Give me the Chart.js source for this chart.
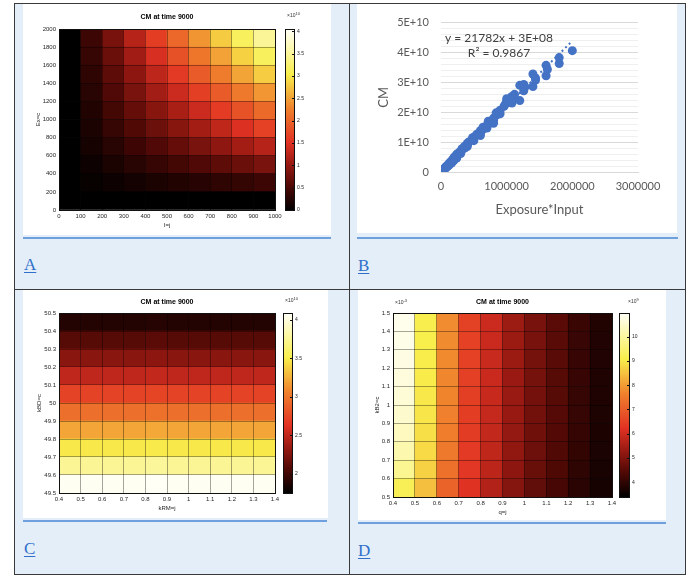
<!DOCTYPE html>
<html>
<head>
<meta charset="utf-8">
<script src="https://cdn.jsdelivr.net/npm/chart.js"></script>
<style>
body { margin: 0; background: #fff; width: 691px; height: 579px; position: relative; overflow: hidden; }
.cell { position: absolute; background: #e3eef9; }
.img { position: absolute; background: #fff; }
.rule { position: absolute; height: 2px; background: #6fa0de; }
.letter { position: absolute; color: #2f6fca; font: 17px/17px "Liberation Serif", serif; text-decoration: underline; text-underline-offset: 2px; }
.ln { position: absolute; background: #3a3a3a; }
canvas { position: absolute; }
</style>
</head>
<body>
<div class="cell" style="left:15px;top:4px;width:334px;height:285px"></div>
<div class="cell" style="left:350px;top:4px;width:335px;height:285px"></div>
<div class="cell" style="left:15px;top:290px;width:334px;height:284px"></div>
<div class="cell" style="left:350px;top:290px;width:335px;height:284px"></div>

<div class="img" style="left:23px;top:4px;width:308px;height:231px"></div>
<div class="img" style="left:357px;top:4px;width:320px;height:229px"></div>
<div class="img" style="left:23px;top:290px;width:305px;height:228px"></div>
<div class="img" style="left:358px;top:290px;width:308px;height:230px"></div>

<div class="rule" style="left:23px;top:237px;width:308px"></div>
<div class="rule" style="left:357px;top:237px;width:321px"></div>
<div class="rule" style="left:23px;top:520px;width:304px"></div>
<div class="rule" style="left:358px;top:522px;width:308px"></div>

<div class="letter" style="left:24px;top:256px">A</div>
<div class="letter" style="left:358px;top:257px">B</div>
<div class="letter" style="left:24px;top:540px">C</div>
<div class="letter" style="left:358px;top:542px">D</div>

<div class="ln" style="left:14px;top:3px;width:672px;height:1px"></div>
<div class="ln" style="left:14px;top:574px;width:672px;height:1px"></div>
<div class="ln" style="left:14px;top:3px;width:1px;height:572px"></div>
<div class="ln" style="left:685px;top:3px;width:1px;height:572px"></div>
<div class="ln" style="left:349px;top:3px;width:1px;height:572px"></div>
<div class="ln" style="left:14px;top:289px;width:672px;height:1px"></div>

<canvas id="chartA" width="308" height="231" style="left:23px;top:4px"></canvas>
<canvas id="chartB" width="320" height="229" style="left:357px;top:4px"></canvas>
<canvas id="chartC" width="305" height="228" style="left:23px;top:290px"></canvas>
<canvas id="chartD" width="308" height="230" style="left:358px;top:290px"></canvas>

<script>
// ---- panel A: CM at time 9000 over I (columns) and Ex (rows), x1e10
const aI = [0, 100, 200, 300, 400, 500, 600, 700, 800, 900, 1000];
const aEx = [0, 200, 400, 600, 800, 1000, 1200, 1400, 1600, 1800, 2000];
const aCM = [ // rows from Ex=0 upwards
  [0, 0, 0, 0, 0, 0, 0, 0, 0, 0],
  [0, 0.05, 0.09, 0.13, 0.18, 0.22, 0.26, 0.31, 0.35, 0.40],
  [0, 0.09, 0.18, 0.27, 0.36, 0.45, 0.54, 0.63, 0.72, 0.82],
  [0, 0.14, 0.27, 0.41, 0.54, 0.68, 0.82, 0.96, 1.10, 1.22],
  [0, 0.18, 0.36, 0.55, 0.73, 0.91, 1.10, 1.29, 1.48, 1.66],
  [0, 0.22, 0.45, 0.68, 0.91, 1.14, 1.37, 1.60, 1.82, 2.05],
  [0, 0.27, 0.54, 0.82, 1.09, 1.37, 1.64, 1.91, 2.18, 2.42],
  [0, 0.31, 0.63, 0.95, 1.27, 1.59, 1.91, 2.22, 2.52, 2.80],
  [0, 0.36, 0.72, 1.08, 1.45, 1.81, 2.16, 2.50, 2.84, 3.15],
  [0, 0.40, 0.81, 1.22, 1.62, 2.02, 2.41, 2.79, 3.14, 3.48]
];
const aColorRange = [0, 4.05];

// ---- panel B: CM vs Exposure*Input
const bExposureInput = [0, 0, 20000, 20000, 40000, 40000, 60000, 60000, 80000, 80000, 100000, 100000,
  120000, 120000, 140000, 160000, 160000, 180000, 180000, 200000, 200000, 200000, 240000, 240000, 240000,
  280000, 300000, 300000, 320000, 320000, 360000, 360000, 400000, 400000, 400000, 420000, 480000, 480000,
  500000, 500000, 540000, 560000, 600000, 600000, 600000, 640000, 640000, 700000, 700000, 720000, 720000,
  800000, 800000, 800000, 840000, 840000, 900000, 900000, 960000, 980000, 1000000, 1000000, 1080000,
  1080000, 1120000, 1120000, 1200000, 1200000, 1260000, 1260000, 1280000, 1400000, 1400000, 1440000,
  1440000, 1600000, 1600000, 1620000, 1800000, 1800000, 2000000];
const bCM = [0, 0.02e10, 0.05e10, 0.03e10, 0.10e10, 0.07e10, 0.14e10, 0.11e10, 0.19e10, 0.15e10, 0.23e10, 0.19e10,
  0.28e10, 0.22e10, 0.33e10, 0.37e10, 0.30e10, 0.42e10, 0.35e10, 0.47e10, 0.40e10, 0.50e10, 0.56e10, 0.47e10, 0.60e10,
  0.66e10, 0.70e10, 0.62e10, 0.74e10, 0.78e10, 0.80e10, 0.86e10, 0.90e10, 0.96e10, 0.85e10, 1.00e10, 1.08e10, 1.15e10,
  1.16e10, 1.05e10, 1.25e10, 1.28e10, 1.30e10, 1.38e10, 1.22e10, 1.43e10, 1.50e10, 1.57e10, 1.47e10, 1.60e10, 1.70e10,
  1.72e10, 1.80e10, 1.63e10, 1.90e10, 1.98e10, 1.95e10, 2.07e10, 2.20e10, 2.27e10, 2.37e10, 2.45e10, 2.31e10,
  2.53e10, 2.60e10, 2.45e10, 2.39e10, 2.90e10, 2.72e10, 2.93e10, 2.85e10, 2.86e10, 3.28e10, 3.08e10,
  3.14e10, 3.22e10, 3.57e10, 3.43e10, 3.63e10, 3.83e10, 4.06e10];
const bTrendSlope = 21782;
const bTrendIntercept = 3e8;
const bTrendEnd = 2000000;
const bYTicks = ['0', '1E+10', '2E+10', '3E+10', '4E+10', '5E+10'];

// ---- panel C: CM over kRM (columns) and kBD (rows), x1e10
const cKRM = [0.4, 0.5, 0.6, 0.7, 0.8, 0.9, 1.0, 1.1, 1.2, 1.3, 1.4];
const cKBD = [49.5, 49.6, 49.7, 49.8, 49.9, 50.0, 50.1, 50.2, 50.3, 50.4, 50.5];
const cCM = [
  [4.07, 4.07, 4.07, 4.07, 4.08, 4.07, 4.07, 4.07, 4.07, 4.07],
  [3.76, 3.76, 3.76, 3.76, 3.77, 3.76, 3.76, 3.76, 3.76, 3.76],
  [3.48, 3.48, 3.48, 3.48, 3.49, 3.48, 3.48, 3.48, 3.48, 3.48],
  [3.21, 3.21, 3.21, 3.21, 3.22, 3.21, 3.21, 3.21, 3.21, 3.21],
  [2.96, 2.96, 2.96, 2.96, 2.97, 2.96, 2.96, 2.96, 2.96, 2.96],
  [2.72, 2.72, 2.72, 2.72, 2.73, 2.72, 2.72, 2.72, 2.72, 2.72],
  [2.50, 2.50, 2.50, 2.50, 2.51, 2.50, 2.50, 2.50, 2.50, 2.50],
  [2.29, 2.29, 2.29, 2.29, 2.30, 2.29, 2.29, 2.29, 2.29, 2.29],
  [2.09, 2.09, 2.09, 2.09, 2.10, 2.09, 2.09, 2.09, 2.09, 2.09],
  [1.89, 1.89, 1.89, 1.89, 1.90, 1.89, 1.89, 1.89, 1.89, 1.89]
];
const cColorRange = [1.75, 4.09];

// ---- panel D: CM over q (columns) and kB2 (rows, x1e-3), x1e9
const dQ = [0.4, 0.5, 0.6, 0.7, 0.8, 0.9, 1.0, 1.1, 1.2, 1.3, 1.4];
const dKB2 = [0.5, 0.6, 0.7, 0.8, 0.9, 1.0, 1.1, 1.2, 1.3, 1.4, 1.5];
const dCM = [
  [9.20, 8.45, 7.10, 6.22, 5.65, 5.08, 4.62, 4.30, 3.93, 3.66],
  [9.85, 8.70, 7.35, 6.32, 5.76, 5.18, 4.72, 4.38, 3.99, 3.70],
  [10.15, 8.82, 7.48, 6.38, 5.82, 5.23, 4.77, 4.42, 4.03, 3.73],
  [10.35, 8.90, 7.57, 6.42, 5.86, 5.27, 4.81, 4.45, 4.05, 3.75],
  [10.50, 8.96, 7.63, 6.45, 5.89, 5.30, 4.84, 4.47, 4.07, 3.77],
  [10.60, 9.00, 7.68, 6.47, 5.91, 5.32, 4.86, 4.49, 4.08, 3.78],
  [10.68, 9.04, 7.72, 6.49, 5.93, 5.34, 4.88, 4.50, 4.09, 3.79],
  [10.75, 9.07, 7.75, 6.50, 5.94, 5.35, 4.89, 4.51, 4.10, 3.80],
  [10.80, 9.09, 7.78, 6.51, 5.95, 5.36, 4.90, 4.52, 4.11, 3.81],
  [10.85, 9.10, 7.80, 6.52, 5.96, 5.37, 4.91, 4.53, 4.12, 3.82]
];
const dColorRange = [3.4, 10.97];

Chart.defaults.font.family = '"Liberation Sans", Arial, sans-serif';
Chart.defaults.color = '#262626';

// "hot" colormap, toned like the screenshot
const hotStops = [
  [0, [0, 0, 0]], [0.125, [75, 8, 5]], [0.25, [150, 25, 18]], [0.375, [225, 50, 35]],
  [0.5625, [240, 130, 45]], [0.75, [248, 238, 75]], [1, [255, 255, 248]]
];
function hot(t) {
  t = Math.max(0, Math.min(1, t));
  for (let i = 1; i < hotStops.length; i++) {
    if (t <= hotStops[i][0]) {
      const [t0, c0] = hotStops[i - 1], [t1, c1] = hotStops[i];
      const f = (t - t0) / (t1 - t0);
      return 'rgb(' + c0.map((c, k) => Math.round(c + (c1[k] - c) * f)).join(',') + ')';
    }
  }
  return 'rgb(255,255,248)';
}

const fmt = v => String(+v.toFixed(2));

function drawExp(ctx, x, y, p) {
  ctx.font = '5px "Liberation Sans"';
  ctx.textAlign = 'left';
  ctx.textBaseline = 'middle';
  ctx.fillStyle = '#333';
  ctx.fillText('\u00d710', x, y);
  const w = ctx.measureText('\u00d710').width;
  ctx.font = '4px "Liberation Sans"';
  ctx.fillText(p, x + w, y - 2);
}

const heatPlugin = {
  id: 'heat',
  afterDraw(chart, args, o) {
    const { ctx, chartArea: a } = chart;
    const cb = chart.scales.cb;
    const L = Math.round(a.left), T = Math.round(a.top), R = Math.round(a.right), B = Math.round(a.bottom);
    ctx.save();
    ctx.strokeStyle = '#111';
    ctx.lineWidth = 1;
    ctx.strokeRect(L + 0.5, T + 0.5, R - L, B - T);
    // colorbar
    const x0 = R + o.gap;
    for (let y = T; y < B; y++) {
      const v = cb.getValueForPixel(y + 0.5);
      ctx.fillStyle = hot((v - cb.min) / (cb.max - cb.min));
      ctx.fillRect(x0, y, o.barWidth, 1);
    }
    ctx.strokeRect(x0 + 0.5, T + 0.5, o.barWidth, B - T);
    cb.ticks.forEach(t => {
      const y = Math.round(cb.getPixelForValue(t.value)) + 0.5;
      ctx.beginPath();
      ctx.moveTo(x0 + o.barWidth - 2, y); ctx.lineTo(x0 + o.barWidth, y);
      ctx.stroke();
    });
    // title
    ctx.fillStyle = '#000';
    ctx.font = 'bold 7px "Liberation Sans"';
    ctx.textAlign = 'center';
    ctx.textBaseline = 'middle';
    ctx.fillText('CM at time 9000', (L + R) / 2, o.titleY);
    drawExp(ctx, o.expX, o.expY, o.exp);
    if (o.yExp) drawExp(ctx, o.yExpX, o.yExpY, o.yExp);
    ctx.restore();
  }
};

function heatmap(id, xEdges, yEdges, values, colorRange, s) {
  const datasets = values.map((row, r) => ({
    yAxisID: 'y',
    grouped: false,
    barPercentage: 1,
    categoryPercentage: 1,
    borderWidth: 0,
    data: row.map((v, c) => ({ x: (xEdges[c] + xEdges[c + 1]) / 2, y: [yEdges[r], yEdges[r + 1]] })),
    backgroundColor: row.map(v => hot((v - colorRange[0]) / (colorRange[1] - colorRange[0])))
  }));
  const grid = { z: 1, color: 'rgba(0,0,0,0.35)', drawTicks: false };
  new Chart(document.getElementById(id), {
    type: 'bar',
    data: { datasets },
    options: {
      responsive: false, animation: false, events: [],
      layout: { padding: { top: s.padTop } },
      plugins: {
        legend: { display: false }, tooltip: { enabled: false },
        heat: s
      },
      scales: {
        x: {
          type: 'linear', min: xEdges[0], max: xEdges[xEdges.length - 1], offset: false,
          grid: Object.assign({ offset: false }, grid), border: { display: false },
          ticks: { stepSize: xEdges[1] - xEdges[0], autoSkip: false, maxRotation: 0, padding: 3, font: { size: 6 }, callback: fmt },
          title: { display: true, text: s.xTitle, font: { size: 6 }, padding: { top: 0, bottom: s.xTitlePad } },
          afterFit: sc => { sc.height = s.xH; }
        },
        y: {
          type: 'linear', min: yEdges[0], max: yEdges[yEdges.length - 1],
          grid, border: { display: false },
          ticks: { stepSize: yEdges[1] - yEdges[0], autoSkip: false, padding: 3, font: { size: 6 }, callback: fmt },
          title: { display: true, text: s.yTitle, font: { size: 6 }, padding: { top: s.yTitlePad, bottom: 0 } },
          afterFit: sc => { sc.width = s.yW; }
        },
        cb: {
          type: 'linear', position: 'right', min: colorRange[0], max: colorRange[1],
          grid: { display: false, drawTicks: false }, border: { display: false },
          ticks: { stepSize: s.cbStep, includeBounds: false, autoSkip: false, padding: s.gap + s.barWidth + 3, font: { size: 5 }, callback: fmt },
          afterFit: sc => { sc.width = s.cbW; }
        }
      }
    },
    plugins: [heatPlugin]
  });
}

heatmap('chartA', aI, aEx, aCM, aColorRange, {
  padTop: 17, yW: 36, xH: 25, cbW: 56, gap: 10, barWidth: 9, cbStep: 0.5,
  xTitle: 'I=j', xTitlePad: 6.4, yTitle: 'Ex=c', yTitlePad: 11.4,
  titleY: 13, exp: '10', expX: 264, expY: 12
});
heatmap('chartC', cKRM, cKBD, cCM, cColorRange, {
  padTop: 16, yW: 36, xH: 25, cbW: 53, gap: 8, barWidth: 9, cbStep: 0.5,
  xTitle: 'kRM=j', xTitlePad: 6.4, yTitle: 'kBD=c', yTitlePad: 13,
  titleY: 12, exp: '10', expX: 262, expY: 11
});
heatmap('chartD', dQ, dKB2, dCM, dColorRange, {
  padTop: 16, yW: 35, xH: 23, cbW: 54, gap: 7, barWidth: 10, cbStep: 1,
  xTitle: 'q=j', xTitlePad: 4.4, yTitle: 'kB2=c', yTitlePad: 16,
  titleY: 12, exp: '9', expX: 270, expY: 12, yExp: '-3', yExpX: 37, yExpY: 13
});

// ---- scatter B
const trendPlugin = {
  id: 'trendLabel',
  afterDraw(chart) {
    const ctx = chart.ctx;
    ctx.save();
    ctx.fillStyle = '#404040';
    ctx.font = '12px Lato, "Open Sans", sans-serif';
    ctx.textAlign = 'center';
    ctx.textBaseline = 'middle';
    ctx.fillText('y = ' + bTrendSlope + 'x + 3E+08', 142, 34);
    ctx.fillText('R\u00b2 = 0.9867', 142, 49);
    ctx.restore();
  }
};

new Chart(document.getElementById('chartB'), {
  type: 'scatter',
  data: {
    datasets: [
      {
        data: bExposureInput.map((x, i) => ({ x, y: bCM[i] })),
        backgroundColor: '#4472c4', borderWidth: 0, pointRadius: 4.5, order: 0
      },
      {
        type: 'line',
        data: [{ x: 0, y: bTrendIntercept }, { x: bTrendEnd, y: bTrendSlope * bTrendEnd + bTrendIntercept }],
        borderColor: '#4472c4', borderWidth: 2, borderDash: [2, 3], pointRadius: 0, showLine: true, order: 1
      }
    ]
  },
  options: {
    responsive: false, animation: false, events: [],
    layout: { padding: { top: 16, right: 39 } },
    plugins: { legend: { display: false }, tooltip: { enabled: false } },
    scales: {
      x: {
        type: 'linear', min: 0, max: 3000000,
        grid: { display: false, drawTicks: false },
        border: { display: true, color: '#d9d9d9' },
        ticks: { stepSize: 1000000, padding: 8, color: '#595959', font: { family: 'Lato', size: 11 }, callback: v => String(v), maxRotation: 0 },
        title: { display: true, text: 'Exposure*Input', color: '#595959', font: { family: 'Lato', size: 13 }, padding: { top: 0, bottom: 15 } },
        afterFit: sc => { sc.height = 61; }
      },
      y: {
        type: 'linear', min: 0, max: 5e10,
        grid: {
          drawTicks: false,
          color: c => (Math.round(c.tick.value / 1e9) % 10 === 0 ? '#d9d9d9' : '#efefef')
        },
        border: { display: false },
        ticks: {
          stepSize: 2e9, autoSkip: false, padding: 12, color: '#595959', font: { family: 'Lato', size: 11 },
          callback: v => (Math.round(v / 1e9) % 10 === 0 ? bYTicks[Math.round(v / 1e10)] : '')
        },
        title: { display: true, text: 'CM', color: '#595959', font: { family: 'Lato', size: 13 }, padding: { top: 19, bottom: 0 } },
        afterFit: sc => { sc.width = 84; }
      }
    }
  },
  plugins: [trendPlugin]
});
</script>
</body>
</html>
